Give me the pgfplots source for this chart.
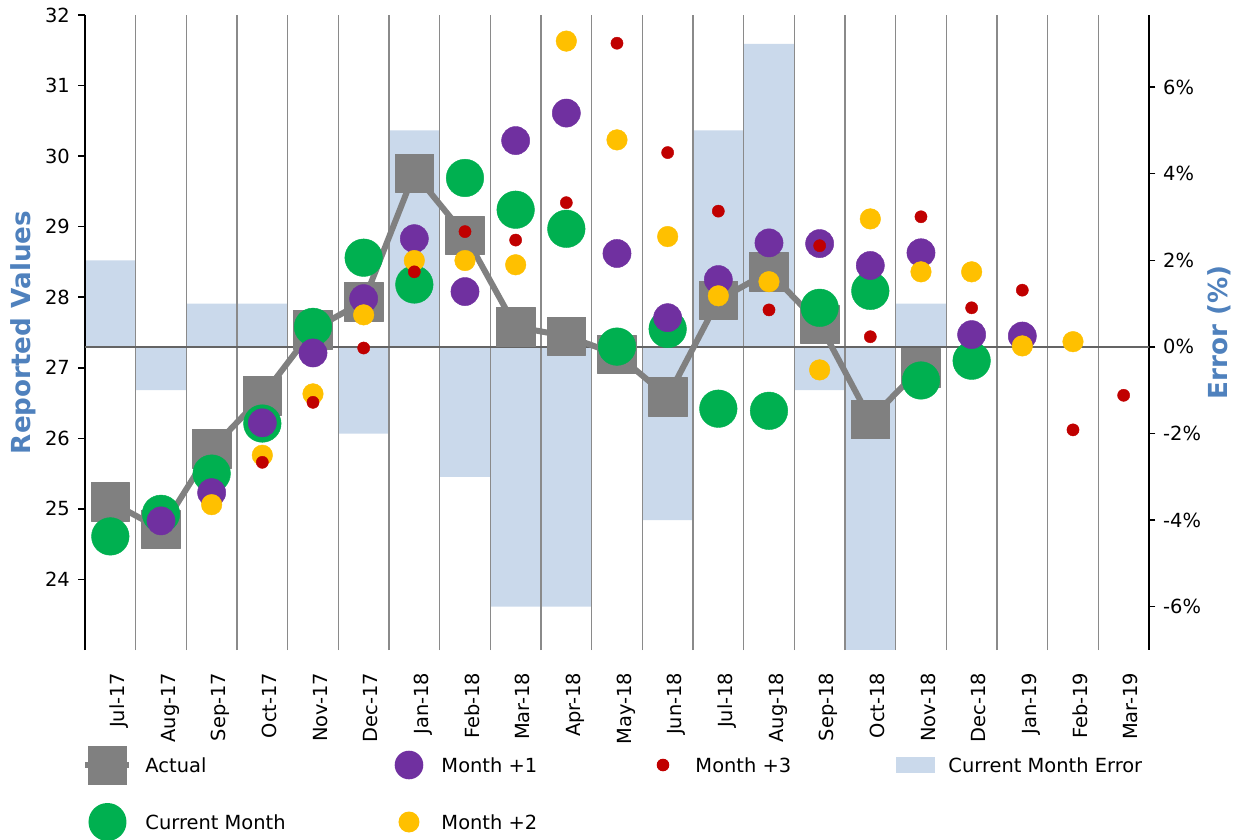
\documentclass[border=0pt]{standalone}
\usepackage{fontspec}
\setmainfont{DejaVu Sans}
\usepackage{pgfplots}
\usepackage{pgfplotstable}
\pgfplotsset{compat=1.18}
\definecolor{cgray}{HTML}{808080}
\definecolor{cgreen}{HTML}{00B050}
\definecolor{cpurple}{HTML}{7030A0}
\definecolor{cyellow}{HTML}{FFC000}
\definecolor{cred}{HTML}{C00000}
\definecolor{cbar}{HTML}{CAD9EB}
\definecolor{clabel}{HTML}{4F81BD}
\definecolor{cgrid}{HTML}{8A8A8A}
\definecolor{czero}{HTML}{646464}
\newcommand\tickfont{\fontsize{19.44}{23}\selectfont}
\newcommand\labfont{\fontsize{26.2}{31}\selectfont\bfseries}

\pgfplotstableread{
x y
0 25.10
1 24.71
2 25.85
3 26.60
4 27.54
5 27.94
6 29.76
7 28.88
8 27.58
9 27.45
10 27.19
11 26.59
12 27.96
13 28.36
14 27.62
15 26.27
16 27.00
}\actual
\pgfplotstableread{
x y
0 24.61
1 24.93
2 25.50
3 26.21
4 27.58
5 28.56
6 28.18
7 29.69
8 29.24
9 28.97
10 27.30
11 27.55
12 26.42
13 26.39
14 27.85
15 28.09
16 26.82
17 27.10
}\current
\pgfplotstableread{
x y
1 24.83
2 25.23
3 26.22
4 27.21
5 27.98
6 28.83
7 28.08
8 30.22
9 30.61
10 28.62
11 27.71
12 28.25
13 28.77
14 28.76
15 28.45
16 28.63
17 27.47
18 27.45
}\mone
\pgfplotstableread{
x y
2 25.06
3 25.76
4 26.63
5 27.75
6 28.52
7 28.52
8 28.46
9 31.63
10 30.23
11 28.86
12 28.02
13 28.22
14 26.97
15 29.11
16 28.36
17 28.36
18 27.31
19 27.37
}\mtwo
\pgfplotstableread{
x y
3 25.66
4 26.51
5 27.28
6 28.36
7 28.93
8 28.81
9 29.34
10 31.60
11 30.05
12 29.22
13 27.82
14 28.73
15 27.44
16 29.14
17 27.85
18 28.10
19 26.12
20 26.61
}\mthree
\pgfplotstableread{
x err
0 2
1 -1
2 1
3 1
4 0
5 -2
6 5
7 -3
8 -6
9 -6
10 0
11 -4
12 5
13 7
14 -1
15 -7
16 1
}\errtab

\pgfplotsset{
  legcirc/.style 2 args={legend image code/.code={\path[draw=none, fill=none] (0pt,-1pt) rectangle (39pt,1pt); \fill[#1, draw=none] (19.5pt,0pt) circle[radius=#2];}},
}

\begin{document}
\begin{tikzpicture}
% right axis: error bars
\begin{axis}[
  at={(0pt,0pt)}, anchor=south west,
  scale only axis, width=1064pt, height=635pt,
  xmin=-0.5, xmax=20.5, ymin=-7, ymax=7.666,
  axis y line*=right, axis x line=none,
  y axis line style={black, line width=2pt},
  tick align=outside, major tick length=6.5pt,
  ytick={-6,-4,-2,0,2,4,6},
  yticklabels={-6\%,-4\%,-2\%,0\%,2\%,4\%,6\%},
  ytick style={black, line width=1.5pt},
  yticklabel style={font=\tickfont, inner sep=0pt},
  yticklabel shift=7.5pt,
  ylabel={Error (\%)},
  every axis y label/.style={at={(axis description cs:1.0663,0.5)}, rotate=90, anchor=center, font=\labfont, color=clabel},
]
\addplot[ybar, bar width=1, bar shift=0pt, fill=cbar, draw=none, forget plot] table[x=x, y=err] {\errtab};
\end{axis}
% left axis: values
\begin{axis}[
  at={(0pt,0pt)}, anchor=south west,
  scale only axis, width=1064pt, height=635pt,
  xmin=-0.5, xmax=20.5, ymin=23, ymax=32,
  axis y line*=left, axis x line*=bottom,
  x axis line style={draw=none},
  y axis line style={black, line width=2pt},
  clip=false,
  tick align=outside, major tick length=6.5pt,
  xtick={0,...,20},
  xticklabels={Jul-17,Aug-17,Sep-17,Oct-17,Nov-17,Dec-17,Jan-18,Feb-18,Mar-18,Apr-18,May-18,Jun-18,Jul-18,Aug-18,Sep-18,Oct-18,Nov-18,Dec-18,Jan-19,Feb-19,Mar-19},
  xtick style={draw=none},
  xticklabel style={font=\tickfont, xshift=9.2pt, rotate=90, anchor=east, inner sep=0pt, text height=14.2pt, text depth=4pt},
  xticklabel shift=16pt,
  minor xtick={0.5,1.5,2.5,3.5,4.5,5.5,6.5,7.5,8.5,9.5,10.5,11.5,12.5,13.5,14.5,15.5,16.5,17.5,18.5,19.5},
  minor tick length=0pt,
  xminorgrids=true,
  minor grid style={cgrid, line width=1.2pt},
  ytick={24,25,26,27,28,29,30,31,32},
  yticklabels={24,25,26,27,28,29,30,31,32},
  ytick style={black, line width=1.5pt},
  yticklabel style={font=\tickfont, inner sep=0pt},
  yticklabel shift=8.5pt,
  extra y ticks={27.2957}, extra y tick labels={},
  extra y tick style={grid=major, major grid style={czero, line width=2.5pt}, major tick length=0pt},
  ylabel={Reported Values},
  every axis y label/.style={at={(axis description cs:-0.0578,0.5)}, rotate=90, anchor=center, font=\labfont, color=clabel},
  legend columns=4,
  legend cell align=left,
  legend style={draw=none, fill=none, inner sep=0pt, outer sep=0pt,
    at={(axis description cs:-0.00235,-0.15039)}, anchor=north west,
    font=\tickfont, row sep=18.5pt,
    nodes={inner sep=0pt, text height=14.2pt, text depth=0pt},
    /tikz/every odd column/.style={column sep=13pt},
    /tikz/every even column/.style={column sep=0pt},
    /tikz/column 1/.style={column sep=12.5pt},
  },
]
\addplot[cgray, line width=6pt, line join=round, mark=square*, mark size=19.3pt, mark options={solid, line width=0.4pt}, forget plot] table[x=x, y=y] {\actual};
\addplot[only marks, cgreen, mark=*, mark size=18.8pt, forget plot] table[x=x, y=y] {\current};
\addplot[only marks, cpurple, mark=*, mark size=14.1pt, forget plot] table[x=x, y=y] {\mone};
\addplot[only marks, cyellow, mark=*, mark size=10.3pt, forget plot] table[x=x, y=y] {\mtwo};
\addplot[only marks, cred, mark=*, mark size=6.1pt, forget plot] table[x=x, y=y] {\mthree};
% legend (row-wise order)
\addlegendimage{legend image code/.code={\path[draw=none, fill=none] (0pt,-1pt) rectangle (39pt,1pt); \draw[cgray, line width=6pt, fill=none] (-2.5pt,0pt) -- (41.5pt,0pt); \fill[cgray, draw=none] (0pt,-19.5pt) rectangle (39pt,19.5pt);}}
\addlegendentry{\makebox[244pt][l]{Actual}}
\addlegendimage{legcirc={cpurple}{14.3pt}}
\addlegendentry{\makebox[202pt][l]{Month +1}}
\addlegendimage{legcirc={cred}{6.3pt}}
\addlegendentry{\makebox[201pt][l]{Month +3}}
\addlegendimage{legend image code/.code={\path[draw=none, fill=none] (0pt,-1pt) rectangle (39pt,1pt); \fill[cbar, draw=none] (0pt,-8.3pt) rectangle (39pt,8.3pt);}}
\addlegendentry{Current Month Error}
\addlegendimage{legcirc={cgreen}{19pt}}
\addlegendentry{\makebox[244pt][l]{Current Month}}
\addlegendimage{legcirc={cyellow}{10.5pt}}
\addlegendentry{\makebox[202pt][l]{Month +2}}
\end{axis}
\pgfresetboundingbox
\path (-85pt,-190pt) rectangle (1154pt,650pt);
\end{tikzpicture}
\end{document}
